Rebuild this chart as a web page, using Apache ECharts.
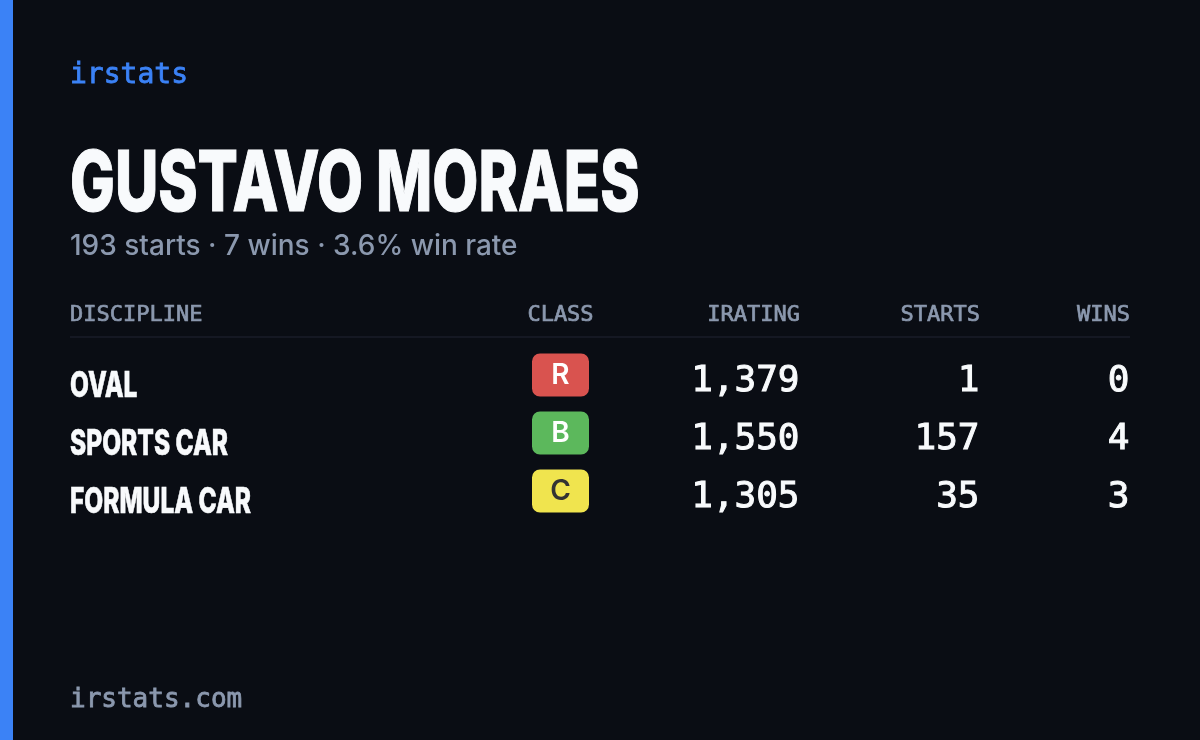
<!DOCTYPE html>
<html>
<head>
<meta charset="utf-8">
<style>html,body{margin:0;padding:0;background:#0a0d14}#chart{width:1200px;height:740px}</style>
<script src="https://cdn.jsdelivr.net/npm/echarts@6/dist/echarts.min.js"></script>
</head>
<body>
<div id="chart"></div>
<script>
const brand = 'irstats';
const driver = 'GUSTAVO MORAES';
const summary = '193 starts · 7 wins · 3.6% win rate';
const footer = 'irstats.com';

const headers = ['DISCIPLINE', 'CLASS', 'IRATING', 'STARTS', 'WINS'];
const disciplines = ['OVAL', 'SPORTS CAR', 'FORMULA CAR'];
const classes = ['R', 'B', 'C'];
const iratings = [1379, 1550, 1305];
const starts = [1, 157, 35];
const wins = [0, 4, 3];

const WHITE = '#f8fafc';
const MUTED = '#8b98ae';
const BLUE = '#3b82f6';
const MONO = '"DejaVu Sans Mono", monospace';
const HEAVY = 'Inter, sans-serif';
const badgeColor = { R: '#d9534f', B: '#5cb85c', C: '#f0e44e' };
const badgeText = { R: '#ffffff', B: '#ffffff', C: '#333333' };
const badgePath = 'path://M8 0H49A8 8 0 0 1 57 8V35A8 8 0 0 1 49 43H8A8 8 0 0 1 0 35V8A8 8 0 0 1 8 0Z';

const ROW_TOP = 346, ROW_H = 174;

// 每一列一个 grid，列头用 x 轴标签，行用 y 轴类目
const columns = [
  { anchor: 70, align: 'left', values: disciplines },
  { anchor: 560.5, align: 'center', values: classes },
  { anchor: 800, align: 'right', values: iratings.map(v => v.toLocaleString('en-US')) },
  { anchor: 980, align: 'right', values: starts.map(String) },
  { anchor: 1130, align: 'right', values: wins.map(String) }
];

const grids = [], xAxes = [], yAxes = [], series = [];
columns.forEach(function (col, c) {
  grids.push({ left: col.anchor - 1, width: 2, top: ROW_TOP, height: ROW_H });
  xAxes.push({
    gridIndex: c, type: 'category', position: 'top', data: [headers[c]],
    axisLine: { show: false }, axisTick: { show: false },
    axisLabel: {
      interval: 0, color: MUTED, fontFamily: MONO, fontSize: 22, align: col.align,
      margin: 20, textBorderColor: MUTED, textBorderWidth: 0.7
    }
  });
  yAxes.push({ gridIndex: c, type: 'category', inverse: true, data: disciplines, show: false });

  const rows = col.values.map((v, i) => [headers[c], disciplines[i], v]);

  if (c === 0) {
    // 名字要压窄，普通 label 不能缩放，所以走 custom
    series.push({
      type: 'custom', xAxisIndex: c, yAxisIndex: c, silent: true, data: rows,
      encode: { x: 0, y: 1 },
      renderItem: function (params, api) {
        const pt = api.coord([api.value(0), api.value(1)]);
        return {
          type: 'text', x: col.anchor, y: pt[1] + 11, scaleX: 0.7,
          style: {
            text: col.values[params.dataIndex], fill: WHITE,
            font: '800 35px ' + HEAVY, textVerticalAlign: 'middle',
            stroke: WHITE, lineWidth: 0.6
          }
        };
      }
    });
  } else if (c === 1) {
    series.push({
      type: 'scatter', xAxisIndex: c, yAxisIndex: c, silent: true,
      symbol: badgePath, symbolSize: [57, 43],
      itemStyle: { color: p => badgeColor[p.value[2]], opacity: 1 },
      data: rows.map(r => ({ value: r, label: { color: badgeText[r[2]] } })),
      label: {
        show: true, position: 'inside', formatter: p => p.value[2],
        fontFamily: HEAVY, fontWeight: 600, fontSize: 28, offset: [0, 1]
      }
    });
  } else {
    series.push({
      type: 'scatter', xAxisIndex: c, yAxisIndex: c, silent: true,
      symbolSize: 1,
      itemStyle: { color: 'transparent', opacity: 1 },
      data: rows,
      label: {
        show: true, position: 'left', distance: 0, formatter: p => p.value[2],
        color: WHITE, fontFamily: MONO, fontSize: 36, offset: [0, 7],
        textBorderColor: WHITE, textBorderWidth: 1
      }
    });
  }
});

const option = {
  backgroundColor: '#0a0d14',
  animation: false,
  grid: grids, xAxis: xAxes, yAxis: yAxes, series: series,
  graphic: [
    { type: 'rect', left: 0, top: 0, shape: { width: 13, height: 740 }, style: { fill: BLUE } },
    { type: 'rect', left: 70, top: 336, shape: { width: 1060, height: 2 }, style: { fill: '#151823' } },
    { type: 'text', x: 70, y: 76, style: { text: brand, fill: BLUE, font: '28px ' + MONO, textVerticalAlign: 'middle', stroke: BLUE, lineWidth: 0.8 } },
    { type: 'text', x: 70, y: 186, scaleX: 0.71, style: { text: driver, fill: WHITE, font: '800 84px ' + HEAVY, textVerticalAlign: 'middle', stroke: WHITE, lineWidth: 1.2 } },
    { type: 'text', x: 70, y: 247, style: { text: summary, fill: MUTED, font: '500 28px Inter, sans-serif', textVerticalAlign: 'middle' } },
    { type: 'text', x: 70, y: 700, style: { text: footer, fill: MUTED, font: '26px ' + MONO, textVerticalAlign: 'middle', stroke: MUTED, lineWidth: 0.8 } }
  ]
};

const chart = echarts.init(document.getElementById('chart'), null, { renderer: 'canvas' });
chart.setOption(option);
</script>
</body>
</html>
